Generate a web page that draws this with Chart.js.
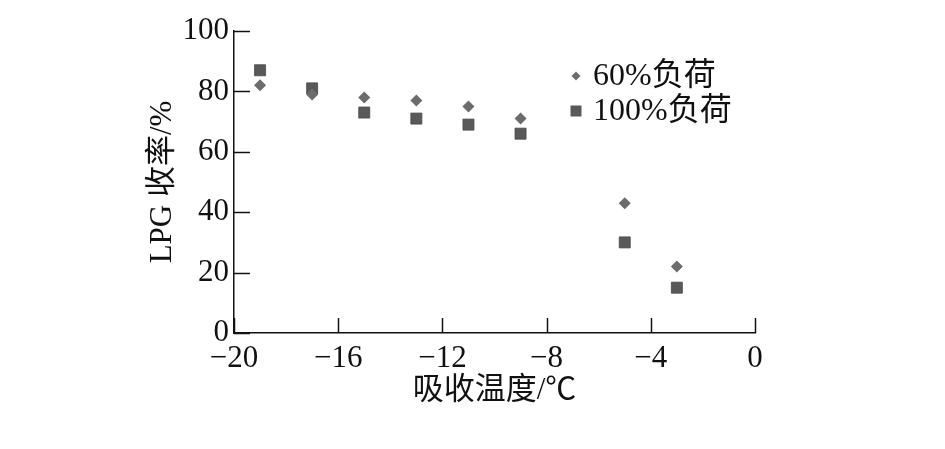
<!DOCTYPE html>
<html><head><meta charset="utf-8">
<script src="https://cdn.jsdelivr.net/npm/chart.js@4/dist/chart.umd.min.js"></script>
<style>html,body{margin:0;padding:0;background:#fff}</style></head>
<body>
<canvas id="c" width="945" height="449"></canvas>
<script>
const temperatures = [-19, -17, -15, -13, -11, -9, -5, -3];
const load60 = [82, 79, 78, 77, 75, 71, 43, 22];
const load100 = [87, 81, 73, 71, 69, 66, 30, 15];
const seriesLabels = ['60%负荷', '100%负荷'];
const xTitle = '吸收温度/℃';
const yTitle = 'LPG 收率/%';
const yLabelValues = [0, 20, 40, 60, 80, 100];

const FONT = "'Liberation Serif', 'Noto Sans CJK SC', serif";

const inwardTicks = {
  id: 'inwardTicks',
  afterDatasetsDraw(chart) {
    const {ctx, chartArea} = chart;
    const xs = chart.scales.x, ys = chart.scales.y;
    ctx.save();
    ctx.strokeStyle = '#111';
    ctx.lineWidth = 1.5;
    ys.ticks.forEach(t => {
      const y = Math.round(ys.getPixelForValue(t.value)) + 0.5;
      ctx.beginPath(); ctx.moveTo(chartArea.left, y); ctx.lineTo(chartArea.left + 16, y); ctx.stroke();
    });
    xs.ticks.forEach(t => {
      const x = Math.round(xs.getPixelForValue(t.value)) + 0.5;
      ctx.beginPath(); ctx.moveTo(x, chartArea.bottom); ctx.lineTo(x, chartArea.bottom - 15); ctx.stroke();
    });
    ctx.restore();
  }
};

const customLegend = {
  id: 'customLegend',
  afterDraw(chart) {
    const ctx = chart.ctx;
    const x0 = 576, ys = [76, 111];
    ctx.save();
    chart.data.datasets.forEach((ds, i) => {
      const y = ys[i];
      ctx.fillStyle = ds.backgroundColor;
      ctx.beginPath();
      if (ds.pointStyle === 'rectRot') {
        const r = 4.5;
        ctx.moveTo(x0, y - r); ctx.lineTo(x0 + r, y); ctx.lineTo(x0, y + r); ctx.lineTo(x0 - r, y); ctx.closePath();
      } else {
        ctx.rect(x0 - 5.5, y - 5.5, 11, 11);
      }
      ctx.fill();
      ctx.fillStyle = '#111';
      ctx.font = '32px ' + FONT;
      ctx.textBaseline = 'middle';
      ctx.textAlign = 'left';
      ctx.fillText(ds.label, 593, y + 1);
    });
    ctx.restore();
  }
};

const minus = v => String(v).replace('-', '\u2212');

new Chart(document.getElementById('c'), {
  type: 'scatter',
  data: {
    datasets: [
      {
        label: seriesLabels[0],
        data: temperatures.map((t, i) => ({x: t, y: load60[i]})),
        pointStyle: 'rectRot', pointRadius: 6,
        backgroundColor: '#6c6c6c', borderColor: '#6c6c6c', borderWidth: 0
      },
      {
        label: seriesLabels[1],
        data: temperatures.map((t, i) => ({x: t, y: load100[i]})),
        pointStyle: 'rect', pointRadius: 7.8,
        backgroundColor: '#595959', borderColor: '#4a4a4a', borderWidth: 0.8
      }
    ]
  },
  options: {
    responsive: false,
    animation: false,
    layout: {padding: {left: 128, right: 190, top: 31, bottom: 36}},
    plugins: {legend: {display: false}, tooltip: {enabled: false}},
    scales: {
      x: {
        type: 'linear', min: -20, max: 0,
        grid: {display: false, drawTicks: false},
        border: {display: true, color: '#111', width: 1.5},
        ticks: {stepSize: 4, padding: 7, color: '#111', font: {family: FONT, size: 31}, callback: v => minus(v), maxRotation: 0},
        title: {display: true, text: xTitle, color: '#111', font: {family: FONT, size: 31}, padding: {top: 0, bottom: 4}},
        afterFit: s => { s.height = 80; }
      },
      y: {
        min: 0, max: 100,
        grid: {display: false, drawTicks: false},
        border: {display: true, color: '#111', width: 1.5},
        ticks: {stepSize: 10, padding: 5, color: '#111', font: {family: FONT, size: 31},
          callback: v => yLabelValues.includes(v) ? String(v) : ''},
        title: {display: true, text: yTitle, color: '#111', font: {family: FONT, size: 31}, padding: {top: 16, bottom: 0}},
        afterFit: s => { s.width = 106; }
      }
    }
  },
  plugins: [inwardTicks, customLegend]
});
</script>
</body></html>
